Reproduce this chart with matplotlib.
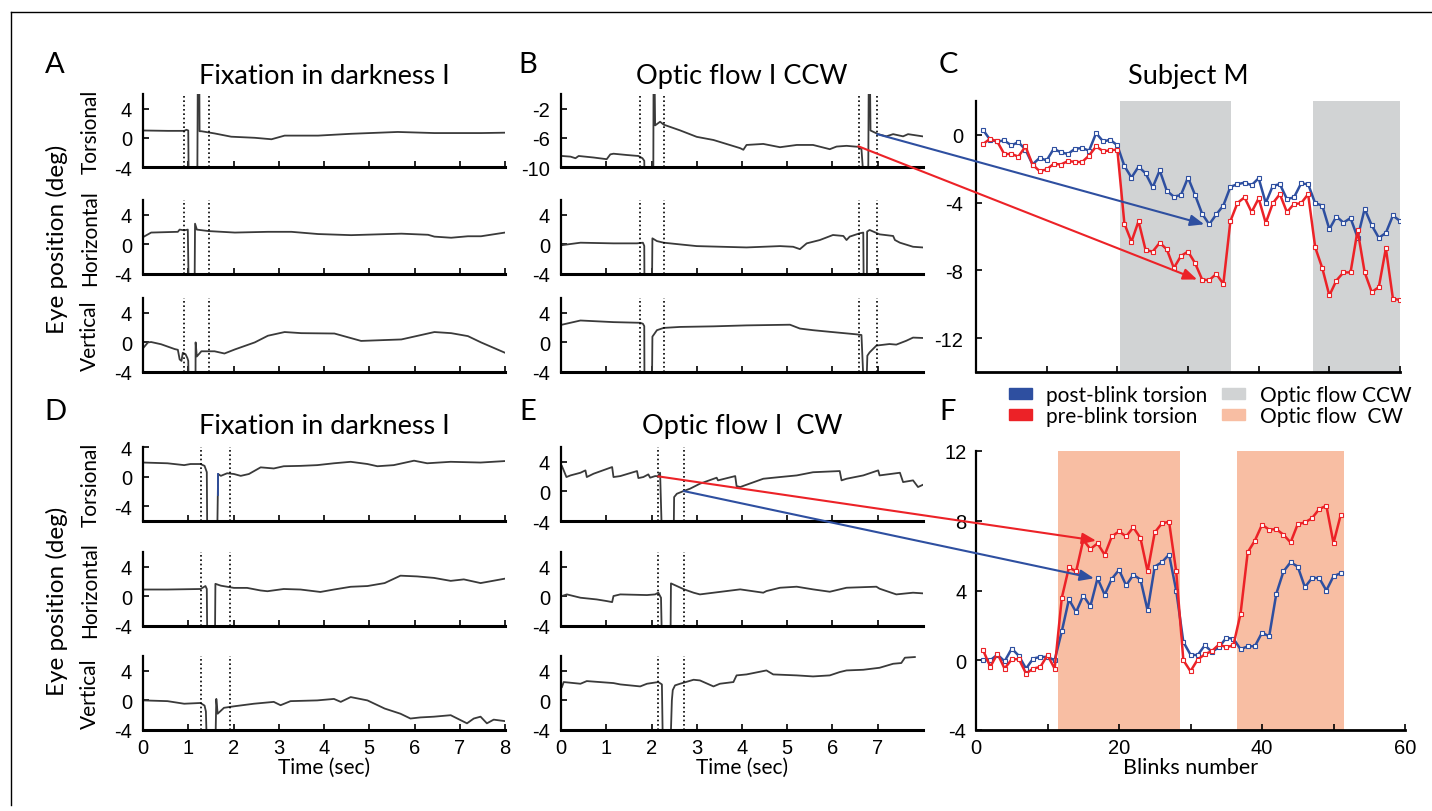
import matplotlib
matplotlib.use("Agg")
import matplotlib.pyplot as plt
from matplotlib.patches import Patch, ConnectionPatch
from matplotlib.lines import Line2D

# Eye traces (time in sec, position in deg).
# Values outside the y range are the blink saturation (clipped by the axes).

# A - fixation in darkness
a_tor_t = [0.02, 0.55, 0.91, 0.96, 1.0, 1.01, 1.2, 1.21, 1.245, 1.25, 1.29, 1.58, 1.95, 2.47, 2.84, 3.13, 3.87, 4.6, 5.63, 6.44, 7.47, 8.0]
a_tor_y = [1.0, 0.95, 0.95, 1.1, 1.0, -6, -6, 7, 7, 0.9, 0.9, 0.6, 0.15, 0.0, -0.2, 0.3, 0.3, 0.55, 0.8, 0.65, 0.65, 0.7]
a_hor_t = [0.02, 0.18, 0.77, 0.81, 0.91, 0.99, 1.01, 1.14, 1.15, 1.19, 1.45, 2.03, 2.76, 3.28, 3.87, 4.6, 5.71, 6.3, 6.44, 6.81, 7.18, 7.47, 8.0]
a_hor_y = [1.05, 1.6, 1.7, 2.0, 1.9, 2.0, -6, -6, 2.8, 2.0, 1.8, 1.6, 1.7, 1.7, 1.4, 1.25, 1.45, 1.3, 1.05, 0.9, 1.1, 1.1, 1.6]
a_ver_t = [0.02, 0.11, 0.18, 0.4, 0.7, 0.77, 0.81, 0.85, 0.88, 0.94, 0.98, 1.0, 1.01, 1.16, 1.163, 1.19, 1.29, 1.58, 1.8, 2.03, 2.47, 2.76, 3.13, 3.5, 4.23, 4.82, 5.71, 6.44, 6.81, 7.18, 7.47, 8.0]
a_ver_y = [-0.65, 0.0, 0.05, -0.25, -0.9, -1.0, -2.3, -2.5, -1.4, -1.6, -2.1, -2.5, -6, -6, 0.0, -1.9, -1.2, -1.2, -1.5, -0.95, 0.0, 0.9, 1.4, 1.25, 1.2, 0.2, 0.4, 1.4, 1.25, 0.85, 0.0, -1.4]
a_marks = [0.906, 1.45]

# B - optic flow CCW
b_tor_t = [0.02, 0.21, 0.32, 0.39, 0.72, 1.01, 1.09, 1.16, 1.46, 1.71, 1.8, 1.84, 1.845, 2.04, 2.045, 2.07, 2.08, 2.19, 2.27, 2.63, 3.0, 3.37, 3.96, 4.03, 4.1, 4.47, 4.84, 5.21, 5.57, 5.94, 6.09, 6.31, 6.57, 6.64, 6.68, 6.79, 6.8, 6.83, 6.84, 7.01, 7.19, 7.34, 7.56, 7.67, 7.99]
b_tor_y = [-8.49, -8.58, -8.8, -8.49, -8.7, -8.93, -8.27, -8.18, -8.36, -8.49, -8.8, -9.15, -11, -11, 1, 1, -4.3, -3.8, -4.2, -4.98, -5.87, -6.3, -7.42, -7.64, -6.98, -6.84, -7.29, -6.98, -6.98, -7.56, -7.2, -7.1, -7.24, -7.56, -11, -11, 1, 1, -5.0, -5.5, -5.8, -5.5, -5.8, -5.5, -5.8]
b_hor_t = [0.02, 0.43, 1.16, 1.68, 1.81, 1.84, 1.845, 2.01, 2.02, 2.12, 2.27, 2.63, 3.0, 4.1, 4.84, 5.13, 5.28, 5.43, 5.72, 6.01, 6.24, 6.31, 6.38, 6.6, 6.68, 6.69, 6.76, 6.765, 6.82, 7.04, 7.34, 7.38, 7.49, 7.78, 7.99]
b_hor_y = [-0.1, 0.23, 0.14, 0.14, 0.23, -0.2, -6, -6, 0.82, 0.45, 0.23, 0.0, -0.23, -0.41, -0.23, -0.32, -0.64, 0.14, 0.59, 1.27, 1.14, 0.59, 1.05, 1.5, 1.6, -6, -6, 1.73, 1.95, 1.36, 1.14, 0.59, 0.23, -0.32, -0.41]
b_ver_t = [0.02, 0.43, 1.16, 1.75, 1.81, 1.84, 1.845, 2.01, 2.02, 2.12, 2.27, 2.63, 3.37, 4.1, 5.06, 5.28, 5.57, 5.94, 6.53, 6.64, 6.69, 6.75, 6.77, 6.82, 6.97, 7.26, 7.41, 7.63, 7.78, 7.99]
b_ver_y = [2.39, 2.96, 2.74, 2.65, 2.52, 2.2, -6, -6, 0.78, 1.65, 1.96, 2.09, 2.17, 2.3, 2.39, 1.87, 1.65, 1.43, 1.09, 1.0, -6, -6, -1.8, -1.35, -0.43, -0.22, -0.3, 0.22, 0.65, 0.6]
b_marks = [1.735, 2.27, 6.59, 6.99]

# D - fixation in darkness
d_tor_t = [0.01, 0.54, 0.91, 1.05, 1.27, 1.36, 1.41, 1.42, 1.64, 1.66, 1.72, 1.86, 2.01, 2.16, 2.34, 2.6, 2.89, 3.11, 3.48, 3.85, 4.22, 4.59, 4.96, 5.18, 5.54, 5.99, 6.28, 6.8, 7.46, 8.0]
d_tor_y = [1.9, 1.8, 1.55, 1.7, 1.7, 1.45, 0.6, -8, -8, 0.35, 0.1, 0.45, 0.35, 0.1, 0.35, 1.25, 1.1, 1.4, 1.45, 1.55, 1.8, 2.0, 1.7, 1.4, 1.55, 2.15, 1.8, 2.0, 1.9, 2.1]
d_tor_mark_t = [1.66, 1.66]
d_tor_mark_y = [0.35, -2.5]
d_hor_t = [0.01, 0.54, 1.27, 1.38, 1.41, 1.42, 1.59, 1.6, 1.72, 2.01, 2.3, 2.6, 2.75, 3.11, 3.48, 3.92, 4.22, 4.59, 4.96, 5.34, 5.69, 6.06, 6.43, 6.8, 7.09, 7.46, 8.0]
d_hor_y = [0.93, 0.93, 1.0, 1.4, 1.0, -6, -6, 1.7, 1.45, 1.15, 1.15, 0.8, 0.7, 1.0, 0.93, 0.6, 0.93, 1.3, 1.4, 1.8, 2.8, 2.7, 2.5, 2.1, 2.3, 1.8, 2.4]
d_ver_t = [0.01, 0.54, 0.91, 1.27, 1.36, 1.39, 1.41, 1.6, 1.62, 1.65, 1.79, 2.01, 2.45, 2.89, 3.04, 3.26, 3.85, 4.22, 4.37, 4.59, 4.96, 5.34, 5.69, 5.91, 6.13, 6.43, 6.8, 7.16, 7.31, 7.46, 7.6, 7.75, 8.0]
d_ver_y = [0.0, -0.1, -0.45, -0.35, -0.7, -1.5, -6, -6, 0.2, -1.8, -1.0, -0.8, -0.45, -0.2, -0.65, -0.1, 0.0, 0.2, -0.2, 0.45, 0.0, -1.1, -1.8, -2.45, -2.3, -2.2, -2.0, -3.1, -2.45, -2.2, -3.1, -2.6, -2.8]
d_marks = [1.29, 1.92]

# E - optic flow CW
e_tor_t = [0.02, 0.06, 0.12, 0.21, 0.43, 0.54, 0.57, 0.72, 1.13, 1.16, 1.31, 1.68, 1.71, 1.82, 1.93, 1.97, 2.08, 2.14, 2.19, 2.23, 2.49, 2.5, 2.56, 2.71, 2.85, 3.07, 3.44, 3.47, 3.85, 3.88, 3.96, 4.1, 4.47, 4.84, 5.21, 5.57, 6.16, 6.2, 6.31, 6.68, 7.01, 7.04, 7.49, 7.56, 7.78, 7.89, 8.0]
e_tor_y = [3.42, 2.84, 1.94, 2.16, 2.52, 2.84, 1.94, 2.39, 3.29, 1.94, 2.07, 2.75, 1.8, 1.94, 2.3, 1.85, 2.07, 2.05, 2.52, -6, -6, -0.77, -0.32, 0.05, 0.36, 1.04, 1.85, 1.49, 2.07, 0.72, 0.59, 0.9, 1.71, 1.94, 2.16, 2.59, 2.75, 1.49, 1.71, 2.16, 2.84, 2.16, 2.52, 1.26, 1.49, 0.59, 0.9]
e_hor_t = [0.02, 0.13, 0.43, 0.79, 1.01, 1.13, 1.16, 1.31, 1.9, 2.08, 2.15, 2.21, 2.23, 2.42, 2.43, 2.56, 2.72, 2.93, 3.07, 3.37, 3.96, 4.47, 4.54, 4.84, 5.21, 5.57, 5.94, 6.31, 6.97, 7.04, 7.41, 7.78, 8.0]
e_hor_y = [0.05, 0.27, -0.18, -0.41, -0.63, -0.77, 0.05, 0.27, 0.18, 0.27, 0.5, -0.18, -6, -6, 1.76, 1.4, 0.95, 0.5, 0.27, 0.5, 0.95, 0.5, 0.72, 1.17, 1.31, 0.95, 0.63, 1.17, 1.31, 1.04, 0.27, 0.5, 0.41]
e_ver_t = [0.02, 0.06, 0.43, 0.57, 1.16, 1.31, 1.75, 1.9, 2.15, 2.23, 2.25, 2.42, 2.45, 2.47, 2.52, 2.63, 2.93, 3.07, 3.37, 3.51, 3.81, 3.88, 4.1, 4.54, 4.69, 5.21, 5.57, 5.94, 6.16, 6.31, 6.68, 7.04, 7.34, 7.52, 7.6, 7.82]
e_ver_y = [1.8, 2.48, 2.25, 2.61, 2.34, 2.16, 1.89, 2.25, 2.48, 2.16, -6, -6, 0.0, 1.4, 2.03, 2.25, 2.79, 2.7, 1.89, 2.25, 2.48, 3.38, 3.51, 4.05, 3.51, 3.38, 3.24, 3.38, 3.83, 4.05, 4.14, 4.41, 4.95, 5.05, 5.77, 5.86]
e_marks = [2.14, 2.72]

# C - Subject M, torsion per blink (CCW optic flow)
c_blinks = list(range(1, 61))
c_post = [0.29, -0.29, -0.39, -0.33, -0.62, -0.43, -0.87, -1.75, -1.36, -1.51,
          -0.82, -1.03, -1.13, -0.82, -0.78, -0.93, 0.1, -0.39, -0.29, -0.62,
          -1.84, -2.52, -1.88, -2.27, -3.1, -2.1, -3.3, -3.65, -3.55, -2.52,
          -3.55, -4.66, -5.28, -4.7, -4.17, -3.07, -2.91, -2.82, -2.97, -2.56,
          -4.02, -3.01, -2.91, -3.79, -3.69, -2.87, -2.91, -4.04, -4.17, -5.57,
          -4.82, -5.18, -4.91, -6.06, -4.37, -5.34, -6.08, -5.79, -4.76, -5.09]
c_pre = [-0.54, -0.23, -0.39, -1.13, -1.13, -1.28, -0.68, -1.75, -2.14, -2.04,
         -1.71, -1.75, -1.55, -1.59, -1.61, -1.22, -0.68, -0.97, -0.91, -0.87,
         -5.24, -6.31, -5.1, -6.8, -6.89, -6.37, -6.76, -7.86, -7.15, -6.89,
         -7.57, -8.54, -8.58, -8.21, -8.8, -5.09, -4.02, -3.69, -4.56, -3.75,
         -5.2, -4.04, -3.5, -4.56, -4.08, -4.04, -3.5, -6.64, -7.86, -9.48,
         -8.6, -8.12, -8.12, -5.63, -8.12, -9.28, -8.99, -6.7, -9.67, -9.75]
c_ccw_spans = [(20.4, 36.1), (47.7, 60.0)]

# F - torsion per blink (CW optic flow)
f_blinks = list(range(1, 52))
f_post = [0.0, 0.0, 0.32, -0.06, 0.67, 0.25, -0.48, 0.1, 0.19, 0.19,
          0.0, 1.66, 3.49, 2.76, 3.71, 3.1, 4.7, 3.75, 4.67, 5.18,
          4.29, 4.9, 4.63, 2.86, 5.37, 5.62, 6.06, 4.0, 1.05, 0.32,
          0.29, 0.86, 0.48, 0.76, 1.28, 1.24, 0.63, 0.8, 0.8, 1.58,
          1.37, 3.81, 5.09, 5.62, 5.37, 4.19, 4.72, 4.72, 4.0, 4.82, 4.99]
f_pre = [0.57, -0.38, 0.38, -0.48, 0.06, 0.06, -0.76, -0.48, -0.38, 0.29,
         -0.48, 3.58, 5.33, 5.09, 6.9, 6.38, 6.7, 6.04, 7.1, 7.39,
         7.1, 7.62, 7.01, 5.09, 7.33, 7.85, 7.94, 5.09, 0.0, -0.63,
         0.04, 0.34, 0.53, 0.91, 0.74, 0.86, 2.67, 6.19, 6.86, 7.77,
         7.49, 7.52, 7.2, 6.76, 7.81, 7.9, 8.15, 8.67, 8.86, 6.72, 8.32]
f_cw_spans = [(11.5, 28.5), (36.5, 51.4)]

# arrows: (time, deg) in the trace panel -> (blink, deg) in the summary panel
arrow_c_post = [(6.99, -5.5), (32.3, -5.28)]
arrow_c_pre = [(6.57, -7.16), (31.3, -8.54)]
arrow_f_pre = [(2.15, 2.03), (16.8, 6.86)]
arrow_f_post = [(2.71, 0.05), (16.5, 4.7)]

W, H = 1432, 812
TXT = ["Lato", "DejaVu Sans"]
NUM = ["Liberation Sans", "DejaVu Sans"]
TRACE = "#3a3a3a"
BLUE = "#2e4fa0"
RED = "#ec2227"
GRAY = "#d1d3d4"
SALMON = "#f8bea3"

plt.rcParams["font.family"] = NUM
plt.rcParams["axes.unicode_minus"] = False
fig = plt.figure(figsize=(W / 100, H / 100), dpi=100)


def px_axes(left, top, right, bottom):
    return fig.add_axes([left / W, 1 - bottom / H, (right - left) / W, (bottom - top) / H])


def style(ax, bottom_lw=2.2, ypad=8):
    ax.spines["top"].set_visible(False)
    ax.spines["right"].set_visible(False)
    ax.spines["left"].set_linewidth(1.6)
    ax.spines["bottom"].set_linewidth(bottom_lw)
    ax.tick_params(direction="in", length=4, width=1.2, labelsize=14.5)
    ax.tick_params(axis="y", pad=ypad)
    ax.tick_params(axis="x", pad=6)


row_tops = [(95, 168), (201, 275), (299, 373)]
row_bots = [(448, 522), (553, 627), (657, 731)]
row_names = ["Torsional", "Horizontal", "Vertical"]


def trace_panel(x0, x1, rows, traces, ylims, yticks, marks, xticks, show_x, names):
    axes = []
    for i, (top, bot) in enumerate(rows):
        ax = px_axes(x0, top, x1, bot)
        style(ax)
        t, y = traces[i]
        ax.plot(t, y, color=TRACE, lw=1.3)
        for m in marks:
            ax.axvline(m, color="black", lw=1.2, ls=(0, (1, 1.6)))
        ax.set_xlim(0, 8)
        ax.set_ylim(*ylims[i])
        ax.set_yticks(yticks[i])
        ax.set_xticks(xticks)
        if not (show_x and i == 2):
            ax.set_xticklabels([])
        if names:
            ax.set_ylabel(names[i], fontsize=15, family=TXT)
            ax.yaxis.set_label_coords(-0.118, 0.5)
        axes.append(ax)
    return axes


tick4 = [-4, 0, 4]
ax_a = trace_panel(143, 505, row_tops, [(a_tor_t, a_tor_y), (a_hor_t, a_hor_y), (a_ver_t, a_ver_y)],
                   [(-4, 6), (-4, 6), (-4, 6)], [tick4, tick4, tick4], a_marks, range(0, 9), False, row_names)
ax_b = trace_panel(561, 923, row_tops, [(b_tor_t, b_tor_y), (b_hor_t, b_hor_y), (b_ver_t, b_ver_y)],
                   [(-10, 0), (-4, 6), (-4, 6)], [[-10, -6, -2], tick4, tick4], b_marks, range(0, 8), False, None)
ax_d = trace_panel(143, 505, row_bots, [(d_tor_t, d_tor_y), (d_hor_t, d_hor_y), (d_ver_t, d_ver_y)],
                   [(-6, 4), (-4, 6), (-4, 6)], [tick4, tick4, tick4], d_marks, range(0, 9), True, row_names)
ax_e = trace_panel(561, 923, row_bots, [(e_tor_t, e_tor_y), (e_hor_t, e_hor_y), (e_ver_t, e_ver_y)],
                   [(-4, 6), (-4, 6), (-4, 6)], [tick4, tick4, tick4], e_marks, range(0, 8), True, None)
ax_d[0].plot(d_tor_mark_t, d_tor_mark_y, color=BLUE, lw=1.3)

TSIZE = 19.5
ax_a[0].set_title("Fixation in darkness I", fontsize=TSIZE, family=TXT, pad=8)
ax_b[0].set_title("Optic flow I CCW", fontsize=TSIZE, family=TXT, pad=8)
ax_d[0].set_title("Fixation in darkness I", fontsize=TSIZE, family=TXT, pad=10)
ax_e[0].set_title("Optic flow I  CW", fontsize=TSIZE, family=TXT, pad=10)
for ax in (ax_d[2], ax_e[2]):
    ax.set_xlabel("Time (sec)", fontsize=15, family=TXT, labelpad=0)

# C
ax_c = px_axes(976, 102, 1400, 373)
style(ax_c, bottom_lw=2.0, ypad=9)
for s0, s1 in c_ccw_spans:
    ax_c.axvspan(s0, s1, color=GRAY, lw=0, zorder=0)
ax_c.plot(c_blinks, c_post, color=BLUE, lw=1.8, marker="s", ms=2.6, mfc="white", mew=0.8)
ax_c.plot(c_blinks, c_pre, color=RED, lw=1.8, marker="s", ms=2.6, mfc="white", mew=0.8)
ax_c.set_xlim(0, 60)
ax_c.set_ylim(-14, 2)
ax_c.set_xticks(range(0, 61, 10))
ax_c.set_xticklabels([])
ax_c.set_yticks([0, -4, -8, -12])
ax_c.set_title("Subject M", fontsize=TSIZE, family=TXT, pad=13)

# F
ax_f = px_axes(976, 452, 1405, 731)
style(ax_f, bottom_lw=2.0, ypad=7)
for s0, s1 in f_cw_spans:
    ax_f.axvspan(s0, s1, color=SALMON, lw=0, zorder=0)
ax_f.plot(f_blinks, f_post, color=BLUE, lw=1.8, marker="s", ms=2.6, mfc="white", mew=0.8)
ax_f.plot(f_blinks, f_pre, color=RED, lw=1.8, marker="s", ms=2.6, mfc="white", mew=0.8)
ax_f.set_xlim(0, 60)
ax_f.set_ylim(-4, 12)
ax_f.set_xticks(range(0, 61, 10))
ax_f.set_xticklabels(["0", "", "20", "", "40", "", "60"])
ax_f.set_yticks([-4, 0, 4, 8, 12])
ax_f.set_xlabel("Blinks number", fontsize=15.5, family=TXT, labelpad=0)

# arrows linking one blink in the traces to its point in the summary panels
for (pa, pb), src, dst, col in [(arrow_c_post, ax_b[0], ax_c, BLUE), (arrow_c_pre, ax_b[0], ax_c, RED),
                                (arrow_f_pre, ax_e[0], ax_f, RED), (arrow_f_post, ax_e[0], ax_f, BLUE)]:
    con = ConnectionPatch(xyA=pa, coordsA=src.transData, xyB=pb, coordsB=dst.transData,
                          arrowstyle="-|>,head_length=0.7,head_width=0.28", mutation_scale=12,
                          color=col, lw=1.5, zorder=20)
    fig.add_artist(con)

# legend
handles = [Patch(color=BLUE), Patch(color=RED), Patch(color=GRAY), Patch(color=SALMON)]
labels = ["post-blink torsion", "pre-blink torsion", "Optic flow CCW", "Optic flow  CW"]
fig.legend(handles, labels, ncol=2, loc="upper left", bbox_to_anchor=(1009 / W, 1 - 386 / H),
           frameon=False, prop={"family": TXT, "size": 15}, handlelength=1.1, handleheight=0.45,
           handletextpad=0.7, labelspacing=0.05, columnspacing=0.7, borderpad=0, borderaxespad=0)

# panel letters and shared labels
for letter, x, y in [("A", 55, 65), ("B", 528, 65), ("C", 948, 65), ("D", 55, 412), ("E", 528, 412), ("F", 948, 412)]:
    fig.text(x / W, 1 - y / H, letter, fontsize=21, family=TXT, ha="center", va="center")
for y in (239, 601):
    fig.text(57 / W, 1 - y / H, "Eye position (deg)", fontsize=17.5, family=TXT, rotation=90, ha="center", va="center")

# frame lines
fig.add_artist(Line2D([11 / W, 1], [1 - 13 / H, 1 - 13 / H], transform=fig.transFigure, color="black", lw=1))
fig.add_artist(Line2D([11 / W, 11 / W], [1 - 13 / H, 1 - 806 / H], transform=fig.transFigure, color="black", lw=1))

fig.savefig("out.png", dpi=100)
